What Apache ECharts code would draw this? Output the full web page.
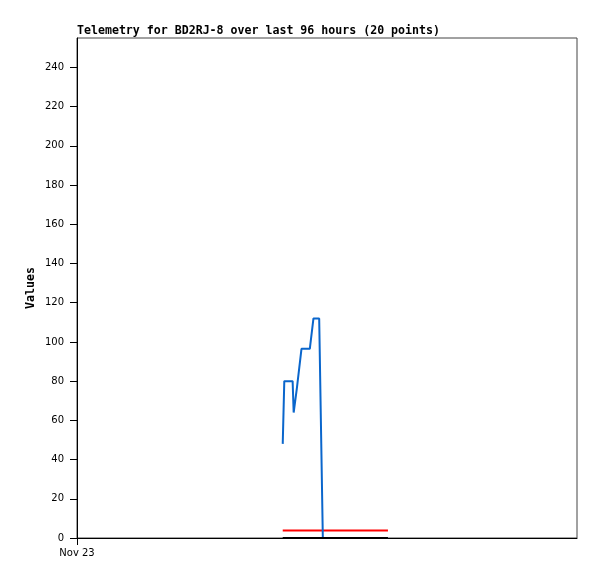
<!DOCTYPE html>
<html>
<head>
<meta charset="utf-8">
<script src="https://cdn.jsdelivr.net/npm/echarts@6/dist/echarts.min.js"></script>
<style>
html,body{margin:0;padding:0;background:#fff;}
#chart{width:597px;height:579px;}
</style>
</head>
<body>
<div id="chart"></div>
<script>
// Hours since Nov 23 00:00 (x axis spans 96 hours)
const hours = [39.5, 39.8, 40.5, 41.4, 41.6, 42.2, 43.1, 43.8, 44.7, 45.4, 45.9, 46.5, 47.2, 48.6, 50.5, 52.4, 54.3, 56.3, 58.2, 59.7];
const blueValues = [48, 80, 80, 80, 64, 76, 96.5, 96.5, 96.5, 112, 112, 112, 0, 0, 0, 0, 0, 0, 0, 0];
const redValues = [3.8, 3.8, 3.8, 3.8, 3.8, 3.8, 3.8, 3.8, 3.8, 3.8, 3.8, 3.8, 3.8, 3.8, 3.8, 3.8, 3.8, 3.8, 3.8, 3.8];
const blackValues = [0, 0, 0, 0, 0, 0, 0, 0, 0, 0, 0, 0, 0, 0, 0, 0, 0, 0, 0, 0];
const xTickHours = [0];
const xTickLabels = ['Nov 23'];
const yTicks = [0, 20, 40, 60, 80, 100, 120, 140, 160, 180, 200, 220, 240];
const titleText = 'Telemetry for BD2RJ-8 over last 96 hours (20 points)';
const yName = 'Values';

const pair = (vals) => hours.map((h, i) => [h, vals[i]]);

const chart = echarts.init(document.getElementById('chart'), null, {renderer: 'canvas'});
chart.setOption({
  animation: false,
  backgroundColor: '#fff',
  title: {
    text: titleText,
    left: 77,
    top: 25,
    padding: 0,
    textStyle: {fontFamily: 'DejaVu Sans Mono', fontWeight: 'bold', fontSize: 11.6, color: '#000'}
  },
  grid: {left: 77, top: 38, width: 500, height: 500, show: true, borderColor: '#444', borderWidth: 1, containLabel: false},
  xAxis: {
    type: 'value', min: 0, max: 96,
    axisLine: {show: true, lineStyle: {color: '#000', width: 1}},
    axisTick: {show: true, length: 7, customValues: xTickHours, lineStyle: {color: '#000'}},
    axisLabel: {customValues: xTickHours, margin: 10, fontFamily: 'DejaVu Sans', fontSize: 10, color: '#000',
      formatter: (v) => { const i = xTickHours.indexOf(v); return i >= 0 ? xTickLabels[i] : ''; }},
    splitLine: {show: false}
  },
  yAxis: {
    type: 'value', min: 0, max: 255,
    name: yName, nameLocation: 'middle', nameGap: 40, nameRotate: 90, nameMoveOverlap: false,
    nameTextStyle: {fontFamily: 'DejaVu Sans Mono', fontWeight: 'bold', fontSize: 11.6, color: '#000'},
    axisLine: {show: true, lineStyle: {color: '#000', width: 1}},
    axisTick: {show: true, length: 7, customValues: yTicks, lineStyle: {color: '#000'}},
    axisLabel: {customValues: yTicks, margin: 13, fontFamily: 'DejaVu Sans', fontSize: 10, color: '#000'},
    splitLine: {show: false}
  },
  series: [
    {type: 'line', data: pair(redValues), showSymbol: false, lineStyle: {color: '#ff0000', width: 2}, itemStyle: {color: '#ff0000'}},
    {type: 'line', data: pair(blueValues), showSymbol: false, lineStyle: {color: '#0a66cc', width: 2}, itemStyle: {color: '#0a66cc'}},
    {type: 'line', data: pair(blackValues), showSymbol: false, lineStyle: {color: '#000', width: 2}, itemStyle: {color: '#000'}}
  ]
});
</script>
</body>
</html>
